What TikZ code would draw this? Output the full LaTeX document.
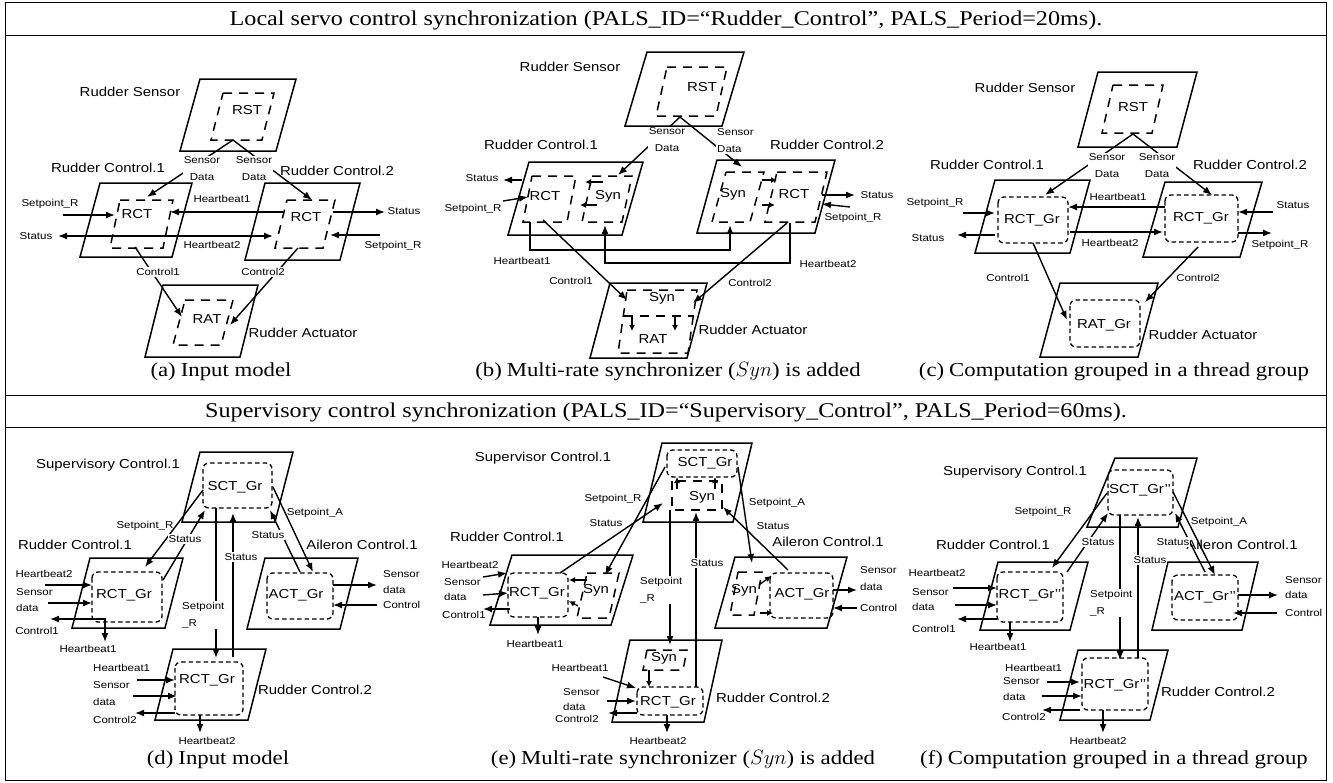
\documentclass[tikz,border=0pt]{standalone}
\usepackage{fontspec}
\setmainfont{Liberation Serif}[FakeStretch=1.15]
\setsansfont{Liberation Sans}[FakeStretch=1.15]
\usetikzlibrary{arrows.meta}
\newcommand\PG[5]{\draw[pg] (#1,#2) -- ++(#3,0) -- ++(-#5,#4) -- ++(-#3,0) -- cycle;}
\newcommand\DB[5]{\draw[db] (#1,#2) -- ++(#3,0) -- ++(-#5,#4) -- ++(-#3,0) -- cycle;}
\newcommand\RB[4]{\draw[rb] (#1,#2) rectangle (#3,#4);}
\begin{document}
\begin{tikzpicture}[x=1pt,y=-1pt,
 pg/.style={line width=1.5pt, line join=miter},
 db/.style={line width=1.5pt, dash pattern=on 9pt off 7pt},
 rb/.style={line width=1.3pt, dash pattern=on 4.5pt off 3pt, rounded corners=6pt},
 arr/.style={line width=1.4pt, -{Latex[length=9pt,width=7pt]}},
 sarr/.style={line width=1.3pt, -{Latex[length=6pt,width=6pt]}},
 big/.style={font=\sffamily\fontsize{13}{16}\selectfont, inner sep=0pt},
 tx/.style={font=\sffamily\fontsize{13}{16}\selectfont, inner sep=0pt},
 sl/.style={font=\sffamily\fontsize{10}{17}\selectfont, inner sep=1pt, align=center},
 wl/.style={sl, fill=white},
 captxt/.style={font=\fontsize{19.8}{24}\selectfont, anchor=base, inner sep=0pt},
 headtxt/.style={font=\fontsize{21}{24}\selectfont, anchor=base, inner sep=0pt},
]
\useasboundingbox (0,0) rectangle (1333,782);
\fill[white] (0,0) rectangle (1333,782);
% frame
\draw[line width=0.9pt] (5,2) rectangle (1326,780);
\draw[line width=0.9pt] (5,35) -- (1326,35);
\draw[line width=0.9pt] (5,395) -- (1326,395);
\draw[line width=0.9pt] (5,427) -- (1326,427);
\node[headtxt] (h1) at (666,25) {Local servo control synchronization (PALS\_ID=“Rudder\_Control”, PALS\_Period=20ms).};
\node[headtxt] (h2) at (666,417) {Supervisory control synchronization (PALS\_ID=“Supervisory\_Control”, PALS\_Period=60ms).};

% ================= (a)
\PG{200}{79}{96}{72}{20}
\PG{100}{183}{92}{74}{20}
\PG{265}{183}{95}{77}{20}
\PG{163}{285}{95}{72}{18}
\DB{223}{93}{51}{47}{12}
\DB{120}{200}{53}{48}{10}
\DB{287}{200}{48}{48}{12}
\DB{185}{300}{48}{45}{12}
\node[big] (a-rs) at (130,92) {Rudder Sensor};
\node[big] (a-rc1) at (108,168) {Rudder Control.1};
\node[big] (a-rc2) at (337,171) {Rudder Control.2};
\node[big] (a-ra) at (303,333) {Rudder Actuator};
\node[tx] (a-rst) at (247,110) {RST};
\node[tx] (a-rct1) at (137,214) {RCT};
\node[tx] (a-rct2) at (306,217) {RCT};
\node[tx] (a-rat) at (207,319) {RAT};
\draw[arr] (233,140) -- (147,197);
\draw[arr] (233,140) -- (312,200);
\node[wl] at (202,169) {Sensor\\Data};
\node[wl] at (254,169) {Sensor\\Data};
\draw[arr] (63,215) -- (115,215); \node[sl] at (50,204) {Setpoint\_R};
\draw[arr] (163,236) -- (58,236); \node[sl] at (36,236) {Status};
\draw[arr] (283,212) -- (170,212); \node[sl] at (222,199) {Heartbeat1};
\draw[arr] (163,236) -- (273,236); \node[sl] at (212,245) {Heartbeat2};
\draw[arr] (333,212) -- (385,212); \node[sl] at (404,211) {Status};
\draw[arr] (380,235) -- (330,235); \node[sl] at (393,246) {Setpoint\_R};
\draw[arr] (135,247) -- (182,317); \node[wl] at (158,272) {Control1};
\draw[arr] (298,248) -- (230,325); \node[wl] at (263,272) {Control2};
\node[captxt] (ca) at (221,376) {(a)\hspace{5pt}Input model};

% ================= (b)
\PG{647}{52}{97}{74}{22}
\PG{529}{162}{114}{73}{21}
\PG{717}{160}{118}{73}{20}
\PG{610}{283}{97}{75}{20}
\DB{667}{67}{60}{49}{11}
\DB{532}{176}{44}{46}{9}
\DB{592}{176}{40}{46}{10}
\DB{726}{172}{38}{50}{14}
\DB{777}{172}{50}{50}{12}
\DB{627}{290}{70}{63}{9}
\draw[db] (624,316) -- (694,316);
\node[big] (b-rs) at (570,67) {Rudder Sensor};
\node[big] (b-rc1) at (541,145) {Rudder Control.1};
\node[big] (b-rc2) at (827,145) {Rudder Control.2};
\node[big] (b-ra) at (753,330) {Rudder Actuator};
\node[tx] (b-rst) at (702,87) {RST};
\node[tx] (b-rct1) at (545,196) {RCT};
\node[tx] (b-syn1) at (608,196) {Syn};
\node[tx] (b-syn2) at (733,194) {Syn};
\node[tx] (b-rct2) at (794,194) {RCT};
\node[tx] (b-syn3) at (662,298) {Syn};
\node[tx] (b-rat) at (653,339) {RAT};
\draw[arr] (680,117) -- (618,175);
\draw[arr] (680,117) -- (742,167);
\node[wl] at (667,140) {Sensor\\Data};
\node[wl, align=left, anchor=west] at (716,141) {Sensor\\Data};
\draw[arr] (503,201) -- (528,197); \node[sl] at (473,209) {Setpoint\_R};
\draw[arr] (522,180) -- (503,180); \node[sl] at (482,178) {Status};
\draw[sarr] (603,182) -- (585,182);
\draw[sarr] (597,205) -- (580,205);
\draw[arr] (530,222) -- (530,250) -- (730,250) -- (730,225); \node[sl] at (522,261) {Heartbeat1};
\draw[arr] (790,223) -- (790,263) -- (605,263) -- (605,225); \node[sl] at (828,264) {Heartbeat2};
\draw[arr] (543,220) -- (627,300); \node[sl] at (571,281) {Control1};
\draw[arr] (787,223) -- (693,303); \node[sl] at (750,283) {Control2};
\draw[sarr] (762,180) -- (777,180);
\draw[sarr] (762,205) -- (775,205);
\draw[arr] (822,195) -- (855,195); \node[sl] at (877,195) {Status};
\draw[arr] (850,207) -- (822,204); \node[sl] at (853,218) {Setpoint\_R};
\draw[sarr] (632,316) -- (632,331);
\draw[sarr] (675,316) -- (675,331);
\node[captxt] (cb) at (668,376) {(b)\hspace{5pt}Multi-rate synchronizer ($Syn$) is added};

% ================= (c)
\PG{1098}{72}{99}{75}{20}
\PG{995}{180}{95}{73}{20}
\PG{1165}{182}{97}{75}{22}
\PG{1060}{283}{98}{74}{20}
\DB{1113}{85}{50}{48}{11}
\RB{998}{197}{1068}{243}
\RB{1165}{195}{1238}{242}
\RB{1070}{300}{1140}{347}
\node[big] (c-rs) at (1025,88) {Rudder Sensor};
\node[big] (c-rc1) at (987,165) {Rudder Control.1};
\node[big] (c-rc2) at (1250,165) {Rudder Control.2};
\node[big] (c-ra) at (1203,335) {Rudder Actuator};
\node[tx] (c-rst) at (1133,107) {RST};
\node[tx] (c-rct1) at (1032,220) {RCT\_Gr};
\node[tx] (c-rct2) at (1201,218) {RCT\_Gr};
\node[tx] (c-rat) at (1104,325) {RAT\_Gr};
\draw[arr] (1133,134) -- (1045,195);
\draw[arr] (1133,134) -- (1212,195);
\node[wl] at (1107,166) {Sensor\\Data};
\node[wl] at (1157,166) {Sensor\\Data};
\draw[arr] (963,213) -- (995,213); \node[sl] at (935,203) {Setpoint\_R};
\draw[arr] (995,235) -- (957,235); \node[sl] at (928,238) {Status};
\draw[arr] (1165,207) -- (1068,207); \node[sl] at (1118,197) {Heartbeat1};
\draw[arr] (1070,232) -- (1163,232); \node[sl] at (1110,243) {Heartbeat2};
\draw[arr] (1273,212) -- (1238,212); \node[sl] at (1293,205) {Status};
\draw[arr] (1238,233) -- (1272,233); \node[sl] at (1280,245) {Setpoint\_R};
\draw[arr] (1033,243) -- (1067,320); \node[sl] at (1008,278) {Control1};
\draw[arr] (1198,247) -- (1145,302); \node[sl] at (1198,278) {Control2};
\node[captxt] (cc) at (1114,376) {(c)\hspace{5pt}Computation grouped in a thread group};

% ================= (d)
\PG{200}{452}{93}{70}{18}
\PG{90}{558}{93}{70}{18}
\PG{265}{558}{93}{71}{18}
\PG{173}{649}{93}{71}{18}
\RB{203}{463}{272}{508}
\RB{92}{572}{162}{622}
\RB{267}{573}{333}{619}
\RB{175}{662}{243}{715}
\node[big] (d-sc) at (108,465) {Supervisory Control.1};
\node[big] (d-rc1) at (75,545) {Rudder Control.1};
\node[big] (d-ac) at (362,545) {Aileron Control.1};
\node[big] (d-rc2) at (315,690) {Rudder Control.2};
\node[tx] (d-sct) at (235,487) {SCT\_Gr};
\node[tx] (d-rct1) at (124,595) {RCT\_Gr};
\node[tx] (d-act) at (296,595) {ACT\_Gr};
\node[tx] (d-rct2) at (207,680) {RCT\_Gr};
\draw[arr] (203,490) -- (145,567); \node[sl] at (145,526) {Setpoint\_R};
\draw[arr] (163,580) -- (205,510); \node[wl] at (185,539) {Status};
\draw[arr] (216,508) -- (216,658); \node[wl, align=left, anchor=west] at (181,615) {Setpoint\\\_R};
\draw[arr] (233,657) -- (233,513); \node[wl] at (241,557) {Status};
\draw[arr] (273,487) -- (313,572); \node[sl] at (315,513) {Setpoint\_A};
\draw[arr] (300,572) -- (270,510); \node[wl] at (268,535) {Status};
\draw[arr] (45,585) -- (92,585); \node[sl] at (44,574) {Heartbeat2};
\node[sl, anchor=west] at (15,592) {Sensor};
\node[sl, anchor=west] at (15,608) {data};
\draw[arr] (48,603) -- (92,603);
\draw[arr] (100,619) -- (50,619); \node[sl] at (37,631) {Control1};
\draw[arr] (100,619) -| (105,642); \node[sl] at (88,649) {Heartbeat1};
\draw[arr] (333,585) -- (377,585);
\node[sl, anchor=west] at (382,574) {Sensor};
\node[sl, anchor=west] at (382,590) {data};
\draw[arr] (377,605) -- (333,605); \node[sl, anchor=west] at (382,605) {Control};
\node[sl, anchor=west] at (92,668) {Heartbeat1};
\node[sl, anchor=west] at (92,685) {Sensor};
\node[sl, anchor=west] at (92,702) {data};
\node[sl, anchor=west] at (92,720) {Control2};
\draw[arr] (137,680) -- (175,680);
\draw[arr] (133,696) -- (177,696);
\draw[arr] (175,713) -- (135,713);
\draw[arr] (200,715) -- (200,733); \node[sl] at (207,741) {Heartbeat2};
\node[captxt] (cd) at (218,764) {(d)\hspace{5pt}Input model};

% ================= (e)
\PG{662}{443}{90}{79}{19}
\PG{512}{555}{121}{70}{22}
\PG{735}{557}{112}{71}{20}
\PG{630}{640}{92}{82}{18}
\RB{667}{450}{737}{477}
\draw[db] (672,481) rectangle (722,510);
\RB{508}{573}{568}{617}
\DB{587}{573}{32}{45}{10}
\DB{738}{572}{24}{43}{8}
\RB{770}{573}{833}{618}
\DB{647}{650}{40}{20}{4}
\RB{637}{687}{703}{715}
\node[big] (e-sc) at (543,458) {Supervisor Control.1};
\node[big] (e-rc1) at (507,537) {Rudder Control.1};
\node[big] (e-ac) at (828,542) {Aileron Control.1};
\node[big] (e-rc2) at (773,698) {Rudder Control.2};
\node[tx] (e-sct) at (705,463) {SCT\_Gr};
\node[tx] (e-syn0) at (702,497) {Syn};
\node[tx] (e-rct1) at (537,593) {RCT\_Gr};
\node[tx] (e-syn1) at (596,590) {Syn};
\node[tx] (e-syn2) at (744,590) {Syn};
\node[tx] (e-act) at (802,594) {ACT\_Gr};
\node[tx] (e-syn3) at (664,658) {Syn};
\node[tx] (e-rct2) at (668,702) {RCT\_Gr};
\draw[arr] (665,467) -- (605,575); \node[sl] at (613,499) {Setpoint\_R};
\draw[arr] (560,573) -- (663,503); \node[sl] at (606,523) {Status};
\draw[arr] (670,510) -- (670,645); \node[wl, align=left, anchor=west] at (639,590) {Setpoint\\\_R};
\draw[arr] (696,687) -- (696,512); \node[wl] at (707,563) {Status};
\draw[arr] (738,467) -- (752,563); \node[sl] at (777,503) {Setpoint\_A};
\draw[arr] (788,570) -- (723,507); \node[sl] at (773,526) {Status};
\draw[sarr] (677,489) -- (677,477);
\draw[sarr] (715,489) -- (715,477);
\draw[arr] (483,577) -- (507,573); \node[sl] at (470,565) {Heartbeat2};
\node[sl, anchor=west] at (443,582) {Sensor};
\node[sl, anchor=west] at (443,597) {data};
\draw[arr] (483,595) -- (508,593);
\draw[arr] (510,609) -- (483,609); \node[sl, anchor=west] at (441,615) {Control1};
\draw[arr] (538,617) -- (538,635); \node[sl] at (535,644) {Heartbeat1};
\draw[sarr] (587,580) -- (569,580);
\draw[sarr] (578,606) -- (569,601);
\draw[sarr] (760,613) -- (773,613);
\draw[sarr] (759,585) -- (771,576);
\draw[arr] (833,590) -- (857,590);
\node[sl, anchor=west] at (859,570) {Sensor};
\node[sl, anchor=west] at (859,587) {data};
\draw[arr] (857,608) -- (833,608); \node[sl, anchor=west] at (859,608) {Control};
\node[sl] at (580,668) {Heartbeat1};
\draw[arr] (603,677) -- (636,688);
\node[sl, anchor=west] at (562,692) {Sensor};
\node[sl, anchor=west] at (562,707) {data};
\draw[arr] (607,701) -- (636,701);
\node[sl, anchor=west] at (554,719) {Control2};
\draw[arr] (637,713) -- (608,713);
\draw[arr] (667,715) -- (667,733); \node[sl] at (658,741) {Heartbeat2};
\draw[sarr] (649,670) -- (649,687);
\node[captxt] (ce) at (683,764) {(e)\hspace{5pt}Multi-rate synchronizer ($Syn$) is added};

% ================= (f)
\draw[pg] (1115,458) -- (1197,458) -- (1178,527) -- (1087,527) -- cycle;
\PG{998}{562}{90}{68}{18}
\PG{1168}{562}{90}{68}{16}
\PG{1078}{650}{90}{70}{18}
\RB{1108}{470}{1173}{515}
\RB{997}{572}{1063}{622}
\RB{1172}{575}{1238}{620}
\RB{1082}{658}{1148}{710}
\node[big] (f-sc) at (1015,472) {Supervisory Control.1};
\node[big] (f-rc1) at (993,545) {Rudder Control.1};
\node[big] (f-ac) at (1242,545) {Aileron Control.1};
\node[big] (f-rc2) at (1218,692) {Rudder Control.2};
\node[tx] (f-sct) at (1140,490) {SCT\_Gr’’};
\node[tx] (f-rct1) at (1030,595) {RCT\_Gr’’};
\node[tx] (f-act) at (1205,597) {ACT\_Gr’’};
\node[tx] (f-rct2) at (1115,685) {RCT\_Gr’’};
\draw[arr] (1107,493) -- (1052,568); \node[sl] at (1043,512) {Setpoint\_R};
\draw[arr] (1067,572) -- (1108,513); \node[wl] at (1098,542) {Status};
\draw[arr] (1120,515) -- (1120,660); \node[wl, align=left, anchor=west] at (1089,603) {Setpoint\\\_R};
\draw[arr] (1138,658) -- (1138,517); \node[wl] at (1150,560) {Status};
\draw[arr] (1173,492) -- (1215,575); \node[sl] at (1219,522) {Setpoint\_A};
\draw[arr] (1205,572) -- (1175,513); \node[wl] at (1173,542) {Status};
\node[sl] at (937,573) {Heartbeat2};
\draw[arr] (953,588) -- (997,588);
\node[sl, anchor=west] at (911,592) {Sensor};
\node[sl, anchor=west] at (911,607) {data};
\draw[arr] (955,605) -- (997,605);
\draw[arr] (997,619) -- (957,619); \node[sl, anchor=west] at (911,629) {Control1};
\draw[arr] (1010,622) -- (1010,642); \node[sl] at (998,647) {Heartbeat1};
\draw[arr] (1238,595) -- (1278,595);
\node[sl, anchor=west] at (1284,580) {Sensor};
\node[sl, anchor=west] at (1284,595) {data};
\draw[arr] (1277,613) -- (1233,613); \node[sl, anchor=west] at (1284,613) {Control};
\node[sl, anchor=west] at (1004,668) {Heartbeat1};
\node[sl, anchor=west] at (1002,681) {Sensor};
\node[sl, anchor=west] at (1002,697) {data};
\node[sl, anchor=west] at (1001,717) {Control2};
\draw[arr] (1047,682) -- (1080,682);
\draw[arr] (1042,696) -- (1082,696);
\draw[arr] (1080,710) -- (1042,710);
\draw[arr] (1103,710) -- (1103,733); \node[sl] at (1098,741) {Heartbeat2};
\node[captxt] (cf) at (1114,764) {(f)\hspace{5pt}Computation grouped in a thread group};
\end{tikzpicture}
\end{document}
